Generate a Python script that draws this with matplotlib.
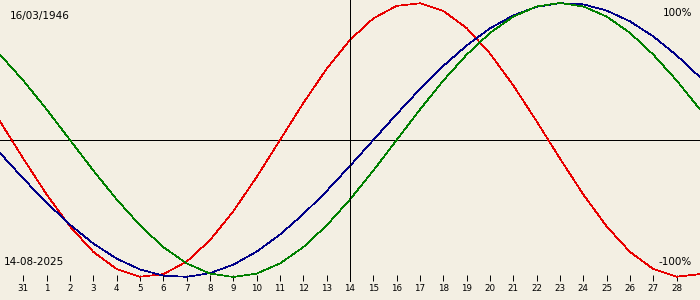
import matplotlib
matplotlib.use("Agg")
import matplotlib.pyplot as plt

# days shown: Jul 30 .. Aug 29 (index -1 .. 29, 14 = today)
days = list(range(-1, 30))
tick_days = list(range(0, 29))
tick_labels = ["31"] + [str(i) for i in range(1, 29)]

# biorhythm values in percent, one per day
physical = [13.6, -13.6, -39.8, -63.1, -81.7, -94.2, -99.8, -97.9, -88.8, -73.1,
            -52.0, -27.0, 0.0, 27.0, 52.0, 73.1, 88.8, 97.9, 99.8, 94.2,
            81.7, 63.1, 39.8, 13.6, -13.6, -39.8, -63.1, -81.7, -94.2, -99.8,
            -97.9]
emotional = [62.3, 43.4, 22.3, 0.0, -22.3, -43.4, -62.3, -78.2, -90.1, -97.5,
             -100.0, -97.5, -90.1, -78.2, -62.3, -43.4, -22.3, 0.0, 22.3, 43.4,
             62.3, 78.2, 90.1, 97.5, 100.0, 97.5, 90.1, 78.2, 62.3, 43.4,
             22.3]
intellectual = [-9.5, -28.2, -45.8, -61.8, -75.6, -86.6, -94.5, -99.0, -99.9, -97.2,
                -91.0, -81.5, -69.0, -54.1, -37.2, -18.9, 0.0, 18.9, 37.2, 54.1,
                69.0, 81.5, 91.0, 97.2, 99.9, 99.0, 94.5, 86.6, 75.6, 61.8,
                45.8]

today = 14
birth = "16/03/1946"
date_str = "14-08-2025"

bg = "#f3efe3"
W, H = 700, 300
fig = plt.figure(figsize=(7, 3), dpi=100, facecolor=bg)
ax = fig.add_axes([0, 0, 1, 1], facecolor=bg)

lw = 0.7
clw = 0.5
ax.axhline(0, color="black", lw=lw, antialiased=False)
ax.plot(days, physical, color="#e80000", lw=clw, antialiased=False)
ax.plot(days, intellectual, color="#000088", lw=clw, antialiased=False)
ax.plot(days, emotional, color="#008000", lw=clw, antialiased=False)
ax.vlines(today, -102.9, 110, color="black", lw=lw, antialiased=False)

ax.set_xlim(-1, 29)
ax.set_ylim(-116.8, 102.2)

for s in ax.spines.values():
    s.set_visible(False)
ax.spines["bottom"].set_position(("data", -102.9))
ax.set_xticks(tick_days)
ax.set_xticklabels(tick_labels, fontsize=6.3)
ax.tick_params(axis="x", direction="in", length=4.5, width=lw, pad=2.5, colors="black")
ax.set_yticks([])


def ptext(x, y, s, ha):
    fig.text(x / W, 1 - y / H, s, fontsize=7.5, va="center", ha=ha)


ptext(10, 16, birth, "left")
ptext(692, 13, "100%", "right")
ptext(4, 262, date_str, "left")
ptext(692, 262, "-100%", "right")

fig.savefig("out.png", dpi=100, facecolor=bg)
